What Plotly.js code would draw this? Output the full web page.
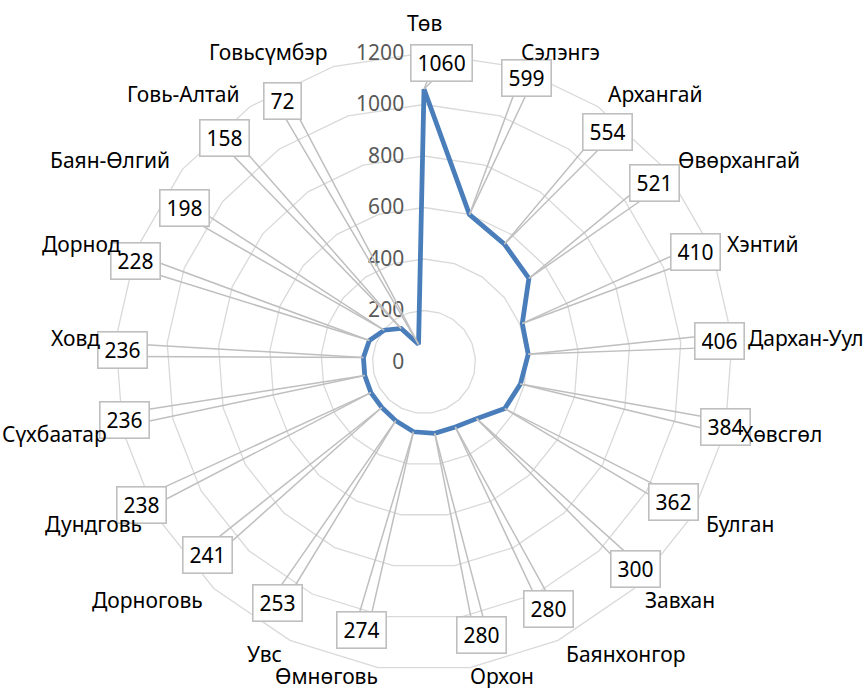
<!DOCTYPE html>
<html>
<head>
<meta charset="utf-8">
<script src="https://cdn.plot.ly/plotly-3.0.1.min.js"></script>
<style>html,body{margin:0;padding:0;background:#fff;}#chart{width:863px;height:688px;}</style>
</head>
<body>
<div id="chart"></div>
<script>
// ---- data ----
const categories = ["Төв","Сэлэнгэ","Архангай","Өвөрхангай","Хэнтий","Дархан-Уул","Хөвсгөл","Булган","Завхан","Баянхонгор","Орхон","Өмнөговь","Увс","Дорноговь","Дундговь","Сүхбаатар","Ховд","Дорнод","Баян-Өлгий","Говь-Алтай","Говьсүмбэр"];
const values = [1060,599,554,521,410,406,384,362,300,280,280,274,253,241,238,236,236,228,198,158,72];
const radialTicks = [0,200,400,600,800,1000,1200];

// ---- layout helpers (callout placement: angle clockwise from top in degrees, distance in px) ----
const calloutAngle = [3.4,19.9,38.5,52.2,68.0,85.9,102.2,119.2,134.5,153.3,168.2,193.2,211.4,228.4,243.2,259.1,272.3,289.3,302.7,318.4,331.6];
const calloutDist  = [300,302,294,292,293,296,308,286,296,276,279,275,282,290,317,305,302,306,285,300,297];

const W = 863, H = 688;
const cx = 424, cy = 362, R = 309, rmax = 1200;
const FONT = "Noto Sans, Lato, sans-serif";
const FS = 21;
const grid = "#d9d9d9";
const callGray = "#bfbfbf";

const n = categories.length;
const wedges = [];
const boxes = [];
const catLabels = [];
for (let i = 0; i < n; i++) {
  const a = i * 2 * Math.PI / n;
  const s = Math.sin(a), c = Math.cos(a);
  const rp = R * values[i] / rmax;
  const px = cx + rp * s;
  const py = cy - rp * c;
  const b = calloutAngle[i] * Math.PI / 180;
  const bx = cx + calloutDist[i] * Math.sin(b);
  const by = cy - calloutDist[i] * Math.cos(b);
  const dx = bx - px, dy = by - py;
  const len = Math.hypot(dx, dy);
  const ux = dx / len, uy = dy / len;
  const nx = -uy, ny = ux;
  [-6.5, 6.5].forEach(k => {
    wedges.push({
      xref: "paper", yref: "paper",
      x: px / W, y: 1 - py / H,
      ax: dx + nx * k, ay: dy + ny * k,
      text: " ", font: {size: 1},
      showarrow: true, arrowhead: 0, arrowwidth: 1.5,
      arrowcolor: callGray, standoff: 0, startstandoff: 0
    });
  });
  boxes.push({
    xref: "paper", yref: "paper",
    x: bx / W, y: 1 - by / H,
    xanchor: "center", yanchor: "middle",
    text: String(values[i]),
    showarrow: false, height: 23,
    font: {family: FONT, size: FS, color: "#000"},
    bgcolor: "#fff", bordercolor: callGray, borderwidth: 1.6, borderpad: 6
  });
  // category label just outside the outer ring
  const nearBottom = c < -0.97, nearTop = c > 0.97;
  const pad = nearBottom ? -7 : 15;
  const lx = cx + (R + pad) * s;
  const ly = cy - (R + pad) * c;
  catLabels.push({
    xref: "paper", yref: "paper",
    x: lx / W, y: 1 - ly / H,
    xanchor: s > 0.05 ? "left" : (s < -0.05 ? "right" : "center"),
    yanchor: nearTop ? "bottom" : (nearBottom ? "top" : "middle"),
    text: categories[i], showarrow: false, borderpad: 0,
    font: {family: FONT, size: FS, color: "#000"}
  });
}

const trace = {
  type: "scatterpolar",
  r: values.concat([values[0]]),
  theta: categories.concat([categories[0]]),
  mode: "lines",
  line: {color: "#4a7ebb", width: 4.8},
  hoverinfo: "skip",
  cliponaxis: false
};

const layout = {
  width: W, height: H,
  margin: {l: 0, r: 0, t: 0, b: 0},
  paper_bgcolor: "#fff",
  showlegend: false,
  font: {family: FONT, size: FS, color: "#000"},
  polar: {
    domain: {x: [(cx - R) / W, (cx + R) / W], y: [(H - cy - R) / H, (H - cy + R) / H]},
    gridshape: "linear",
    bgcolor: "rgba(0,0,0,0)",
    angularaxis: {
      type: "category",
      categoryarray: categories,
      rotation: 90,
      direction: "clockwise",
      showgrid: false,
      showline: true,
      linecolor: grid,
      linewidth: 1.3,
      ticks: "",
      showticklabels: false
    },
    radialaxis: {
      range: [0, rmax],
      tickvals: radialTicks,
      ticktext: radialTicks.map(String),
      angle: 90,
      side: "counterclockwise",
      tickangle: 90,
      showline: false,
      gridcolor: grid,
      gridwidth: 1.3,
      ticks: "outside",
      ticklen: 12,
      tickcolor: "rgba(0,0,0,0)",
      tickfont: {family: FONT, size: FS, color: "#595959"}
    }
  },
  annotations: wedges.concat(boxes).concat(catLabels)
};

Plotly.newPlot("chart", [trace], layout, {displayModeBar: false, staticPlot: true});
</script>
</body>
</html>
